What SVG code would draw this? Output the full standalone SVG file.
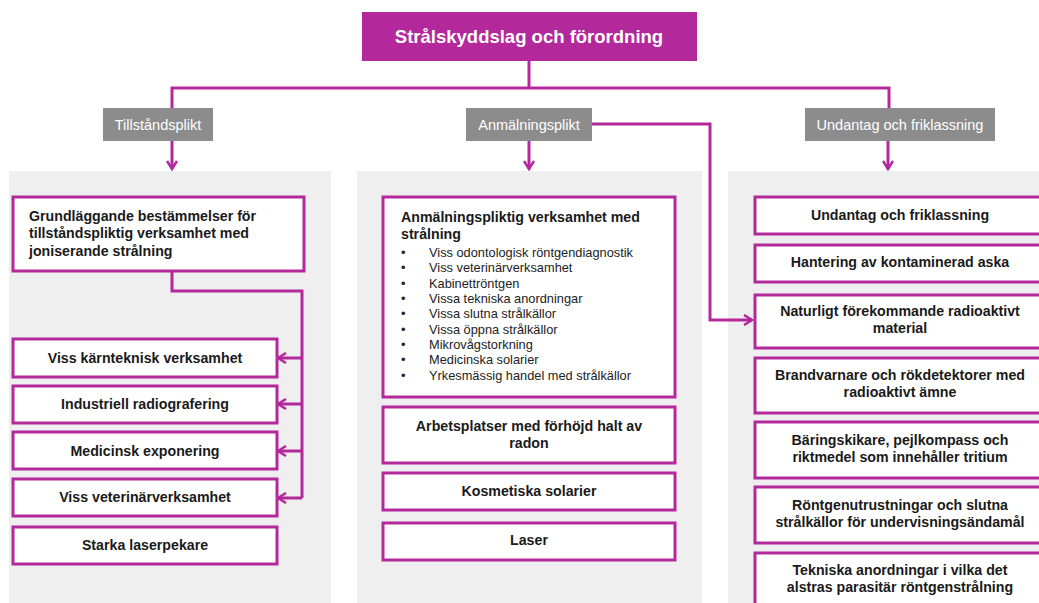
<svg xmlns="http://www.w3.org/2000/svg" width="1039" height="603" viewBox="0 0 1039 603">
<style>
.panel{fill:#efefef}
.box{fill:#fff;stroke:#b3289b;stroke-width:3}
.lbl{fill:#8c8c8c}
.lt{font-family:"Liberation Sans",Arial,sans-serif;font-size:14.5px;fill:#fff;text-anchor:middle}
.bt{font-family:"Liberation Sans",Arial,sans-serif;font-size:14.2px;font-weight:bold;fill:#1a1a1a;text-anchor:middle}
.bl{font-family:"Liberation Sans",Arial,sans-serif;font-size:14.2px;font-weight:bold;fill:#1a1a1a}
.li{font-family:"Liberation Sans",Arial,sans-serif;font-size:12.8px;fill:#222}
.con{fill:none;stroke:#b3289b;stroke-width:3}
</style>
<defs>
<marker id="ah" viewBox="0 0 12 12" refX="10" refY="6" markerWidth="12" markerHeight="12" markerUnits="userSpaceOnUse" orient="auto">
<path d="M2,1 L10,6 L2,11" fill="none" stroke="#b3289b" stroke-width="2.5"/>
</marker>
</defs>
<rect width="1039" height="603" fill="#fff"/>
<g id="panels">
<rect class="panel" x="9" y="171" width="322" height="432"/>
<rect class="panel" x="357" y="171" width="345" height="432"/>
<rect class="panel" x="728" y="171" width="311" height="432"/>
</g>
<g id="connectors">
<path class="con" d="M529,61 V88"/>
<path class="con" d="M172,108 V88 H889 V108"/>
<path class="con" d="M172,141 V169" marker-end="url(#ah)"/>
<path class="con" d="M529,141 V169" marker-end="url(#ah)"/>
<path class="con" d="M888,141 V169" marker-end="url(#ah)"/>
<path class="con" d="M592,124 H710 V320 H752" marker-end="url(#ah)"/>
<path class="con" d="M172,271 V291 H302 V498"/>
<path class="con" d="M302,358 H278" marker-end="url(#ah)"/>
<path class="con" d="M302,404 H278" marker-end="url(#ah)"/>
<path class="con" d="M302,451 H278" marker-end="url(#ah)"/>
<path class="con" d="M302,498 H278" marker-end="url(#ah)"/>
</g>
<g id="title">
<rect x="362" y="12" width="335" height="49" fill="#b3289b"/>
<text x="529" y="43" font-family="Liberation Sans,Arial,sans-serif" font-size="18.5" font-weight="bold" fill="#fff" text-anchor="middle">Strålskyddslag och förordning</text>
</g>
<g id="lbl-tillstand">
<rect class="lbl" x="103" y="108" width="110" height="33"/>
<text class="lt" x="158" y="130">Tillståndsplikt</text>
</g>
<g id="lbl-anmalning">
<rect class="lbl" x="466" y="108" width="126" height="33"/>
<text class="lt" x="529" y="130">Anmälningsplikt</text>
</g>
<g id="lbl-undantag">
<rect class="lbl" x="805" y="108" width="190" height="33"/>
<text class="lt" x="900" y="130">Undantag och friklassning</text>
</g>
<g id="grund">
<rect class="box" x="13" y="197" width="291" height="74"/>
<text class="bl" x="29" y="221">Grundläggande bestämmelser för</text>
<text class="bl" x="29" y="238">tillståndspliktig verksamhet med</text>
<text class="bl" x="29" y="256">joniserande strålning</text>
</g>
<g id="l1"><rect class="box" x="13" y="339" width="264" height="38"/><text class="bt" x="145" y="363">Viss kärnteknisk verksamhet</text></g>
<g id="l2"><rect class="box" x="13" y="386" width="264" height="37"/><text class="bt" x="145" y="409">Industriell radiografering</text></g>
<g id="l3"><rect class="box" x="13" y="432" width="264" height="37"/><text class="bt" x="145" y="456">Medicinsk exponering</text></g>
<g id="l4"><rect class="box" x="13" y="479" width="264" height="37"/><text class="bt" x="145" y="502">Viss veterinärverksamhet</text></g>
<g id="l5"><rect class="box" x="13" y="527" width="264" height="37"/><text class="bt" x="145" y="550">Starka laserpekare</text></g>
<g id="anm">
<rect class="box" x="383" y="197" width="292" height="200"/>
<text class="bl" x="401" y="222">Anmälningspliktig verksamhet med</text>
<text class="bl" x="401" y="239">strålning</text>
<g class="li">
<text x="401" y="257">•</text><text x="429" y="257">Viss odontologisk röntgendiagnostik</text>
<text x="401" y="272">•</text><text x="429" y="272">Viss veterinärverksamhet</text>
<text x="401" y="288">•</text><text x="429" y="288">Kabinettröntgen</text>
<text x="401" y="303">•</text><text x="429" y="303">Vissa tekniska anordningar</text>
<text x="401" y="318">•</text><text x="429" y="318">Vissa slutna strålkällor</text>
<text x="401" y="334">•</text><text x="429" y="334">Vissa öppna strålkällor</text>
<text x="401" y="349">•</text><text x="429" y="349">Mikrovågstorkning</text>
<text x="401" y="364">•</text><text x="429" y="364">Medicinska solarier</text>
<text x="401" y="380">•</text><text x="429" y="380">Yrkesmässig handel med strålkällor</text>
</g>
</g>
<g id="m1"><rect class="box" x="383" y="407" width="292" height="56"/><text class="bt" x="529" y="431">Arbetsplatser med förhöjd halt av</text><text class="bt" x="529" y="448">radon</text></g>
<g id="m2"><rect class="box" x="383" y="473" width="292" height="37"/><text class="bt" x="529" y="496">Kosmetiska solarier</text></g>
<g id="m3"><rect class="box" x="383" y="523" width="292" height="37"/><text class="bt" x="529" y="545">Laser</text></g>
<g id="r1"><rect class="box" x="755" y="197" width="292" height="37"/><text class="bt" x="900" y="220">Undantag och friklassning</text></g>
<g id="r2"><rect class="box" x="755" y="245" width="292" height="37"/><text class="bt" x="900" y="267">Hantering av kontaminerad aska</text></g>
<g id="r3"><rect class="box" x="755" y="295" width="292" height="53"/><text class="bt" x="900" y="316">Naturligt förekommande radioaktivt</text><text class="bt" x="900" y="333">material</text></g>
<g id="r4"><rect class="box" x="755" y="358" width="292" height="55"/><text class="bt" x="900" y="380">Brandvarnare och rökdetektorer med</text><text class="bt" x="900" y="397">radioaktivt ämne</text></g>
<g id="r5"><rect class="box" x="755" y="422" width="292" height="56"/><text class="bt" x="900" y="445">Bäringskikare, pejlkompass och</text><text class="bt" x="900" y="462">riktmedel som innehåller tritium</text></g>
<g id="r6"><rect class="box" x="755" y="487" width="292" height="56"/><text class="bt" x="900" y="510">Röntgenutrustningar och slutna</text><text class="bt" x="900" y="527">strålkällor för undervisningsändamål</text></g>
<g id="r7"><rect class="box" x="755" y="553" width="292" height="60"/><text class="bt" x="900" y="575">Tekniska anordningar i vilka det</text><text class="bt" x="900" y="592">alstras parasitär röntgenstrålning</text></g>
</svg>
